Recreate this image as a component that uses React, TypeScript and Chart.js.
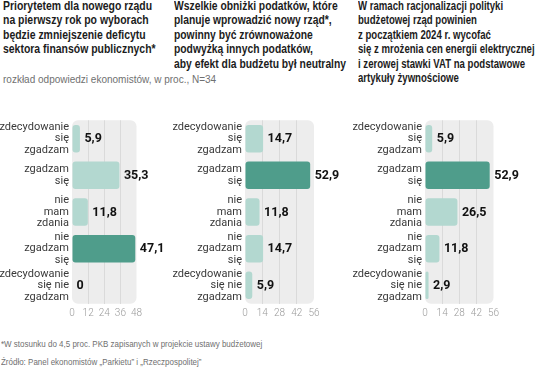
import React, { useEffect, useRef } from "react";
import { Chart, registerables } from "chart.js";

Chart.register(...registerables);

const categories: string[][] = [
  ["zdecydowanie", "się", "zgadzam"],
  ["zgadzam", "się"],
  ["nie", "mam", "zdania"],
  ["nie", "zgadzam", "się"],
  ["zdecydowanie", "się nie", "zgadzam"],
];

const values1 = [5.9, 35.3, 11.8, 47.1, 0];
const values2 = [14.7, 52.9, 11.8, 14.7, 5.9];
const values3 = [5.9, 52.9, 26.5, 11.8, 2.9];

const title1 = "Priorytetem dla nowego rządu\nna pierwszy rok po wyborach\nbędzie zmniejszenie deficytu\nsektora finansów publicznych*";
const title2 = "Wszelkie obniżki podatków, które\nplanuje wprowadzić nowy rząd*,\npowinny być zrównoważone\npodwyżką innych podatków,\naby efekt dla budżetu był neutralny";
const title3 = "W ramach racjonalizacji polityki\nbudżetowej rząd powinien\nz początkiem 2024 r. wycofać\nsię z mrożenia cen energii elektrycznej\ni zerowej stawki VAT na podstawowe\nartykuły żywnościowe";
const subtitle = "rozkład odpowiedzi ekonomistów, w proc., N=34";
const footnote1 = "*W stosunku do 4,5 proc. PKB zapisanych w projekcie ustawy budżetowej";
const footnote2 = "Źródło: Panel ekonomistów „Parkietu” i „Rzeczpospolitej”";

const LIGHT = "#b3d8d0";
const DARK = "#4f9d8b";

const bgPlugin = {
  id: "plotBg",
  beforeDraw(chart: any) {
    const { ctx, chartArea } = chart;
    ctx.save();
    ctx.fillStyle = "#ededed";
    ctx.beginPath();
    (ctx as any).roundRect(
      chartArea.left,
      chartArea.top,
      chartArea.right - chartArea.left,
      chartArea.bottom - chartArea.top,
      6
    );
    ctx.fill();
    ctx.restore();
  },
};

const labelPlugin = {
  id: "valueLabels",
  afterDatasetsDraw(chart: any) {
    const { ctx } = chart;
    const meta = chart.getDatasetMeta(0);
    const data = chart.data.datasets[0].data as number[];
    ctx.save();
    ctx.font = "bold 12.5px Roboto";
    ctx.fillStyle = "#111";
    ctx.textAlign = "left";
    ctx.textBaseline = "middle";
    meta.data.forEach((el: any, i: number) => {
      const txt = String(data[i]).replace(".", ",");
      ctx.fillText(txt, el.x + 4.5, el.y + 0.5);
    });
    ctx.restore();
  },
};

type PanelProps = {
  left: number;
  width: number;
  values: number[];
  max: number;
  step: number;
  yWidth: number;
  padRight: number;
};

function Panel({ left, width, values, max, step, yWidth, padRight }: PanelProps) {
  const ref = useRef<HTMLCanvasElement | null>(null);
  useEffect(() => {
    if (!ref.current) return;
    const maxVal = Math.max(...values);
    const chart = new Chart(ref.current, {
      type: "bar",
      data: {
        labels: categories,
        datasets: [
          {
            data: values,
            backgroundColor: values.map((v) => (v === maxVal ? DARK : LIGHT)),
            borderRadius: 3,
            borderSkipped: false,
            barPercentage: 0.75,
            categoryPercentage: 1,
          },
        ],
      },
      options: {
        indexAxis: "y",
        animation: false,
        responsive: false,
        devicePixelRatio: 1,
        layout: { padding: { top: 8, right: padRight, left: 0, bottom: 0 } },
        plugins: {
          legend: { display: false },
          tooltip: { enabled: false },
          title: { display: false },
        },
        scales: {
          x: {
            min: 0,
            max: max,
            border: { display: false },
            grid: {
              drawTicks: false,
              color: (c: any) =>
                c.tick && (c.tick.value === 0 || c.tick.value === max) ? "rgba(0,0,0,0)" : "#dadada",
              lineWidth: 1,
            },
            ticks: {
              stepSize: step,
              padding: 4,
              color: "#9a9a9a",
              font: { family: "Roboto", size: 10, weight: "300" },
              maxRotation: 0,
            },
            afterFit: (s: any) => {
              s.height = 16;
            },
          },
          y: {
            border: { display: false },
            grid: { display: false, drawTicks: false },
            ticks: {
              padding: 3,
              color: "#3a3a3a",
              font: { family: "Roboto", size: 11, lineHeight: 1.05 },
            },
            afterFit: (s: any) => {
              s.width = yWidth;
            },
          },
        },
      } as any,
      plugins: [bgPlugin, labelPlugin],
    });
    return () => chart.destroy();
  }, []);
  return (
    <canvas
      ref={ref}
      width={width}
      height={224}
      style={{ position: "absolute", left, top: 100, width, height: 224 }}
    />
  );
}

const titleStyle: React.CSSProperties = {
  position: "absolute",
  top: -1,
  fontFamily: "'Liberation Sans Narrow', 'Liberation Sans', sans-serif",
  fontWeight: "bold",
  fontSize: "12px",
  lineHeight: "14.4px",
  color: "#1c1c1c",
  whiteSpace: "pre",
  transform: "scaleX(0.87)",
  transformOrigin: "left top",
};

export default function App() {
  return (
    <div
      style={{
        position: "fixed",
        left: 0,
        top: 0,
        width: 536,
        height: 368,
        background: "#fff",
        overflow: "hidden",
      }}
    >
      <div style={{ ...titleStyle, left: 3 }}>{title1}</div>
      <div style={{ ...titleStyle, left: 174, transform: "scaleX(0.86)" }}>{title2}</div>
      <div style={{ ...titleStyle, left: 358, transform: "scaleX(0.8)" }}>{title3}</div>
      <div
        style={{
          position: "absolute",
          left: 3,
          top: 73,
          fontFamily: "'Liberation Sans', sans-serif",
          fontSize: "10px",
          lineHeight: "14px",
          color: "#707070",
          whiteSpace: "pre",
        }}
      >
        {subtitle}
      </div>
      <Panel left={0} width={180} values={values1} max={48} step={12} yWidth={72} padRight={43.5} />
      <Panel left={166} width={192} values={values2} max={56} step={14} yWidth={79} padRight={44} />
      <Panel left={346} width={190} values={values3} max={56} step={14} yWidth={79} padRight={42.5} />
      <div
        style={{
          position: "absolute",
          left: 1,
          top: 335,
          fontFamily: "'Liberation Sans Narrow', 'Liberation Sans', sans-serif",
          fontSize: "9.5px",
          lineHeight: "18px",
          color: "#707070",
          whiteSpace: "pre",
          transform: "scaleX(0.84)",
          transformOrigin: "left top",
        }}
      >
        {footnote1 + "\n" + footnote2}
      </div>
    </div>
  );
}
